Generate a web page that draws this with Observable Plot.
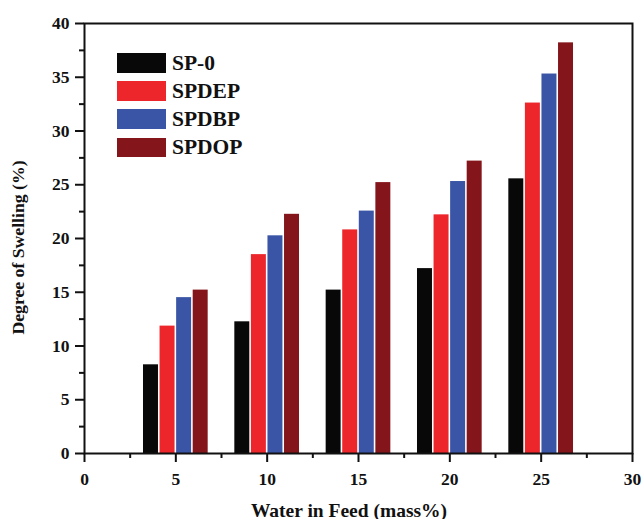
<!DOCTYPE html>
<html>
<head>
<meta charset="utf-8">
<script src="https://cdn.jsdelivr.net/npm/d3@7"></script>
<script src="https://cdn.jsdelivr.net/npm/@observablehq/plot@0.6"></script>
<style>
  html, body { margin: 0; padding: 0; background: white; }
  #wrap { position: relative; width: 641px; height: 519px; }
  #legend { position: absolute; left: 117px; top: 49px; font-family: 'Liberation Serif','Times New Roman',serif; font-weight: bold; font-size: 21.5px; color: #111; }
  .row { display: flex; align-items: center; height: 28.1px; }
  .sw { width: 49px; height: 19.5px; margin-right: 6px; }
  #wrap svg g[aria-label$="tick label"] { font-size: 17.5px !important; font-weight: bold !important; }
</style>
</head>
<body>
<div id="wrap"><div id="legend"></div></div>
<script>
const water = [5, 10, 15, 20, 25];
const series = ["SP-0", "SPDEP", "SPDBP", "SPDOP"];
const sp0   = [8.25, 12.25, 15.2, 17.2, 25.55];
const spdep = [11.85, 18.5, 20.8, 22.2, 32.6];
const spdbp = [14.5, 20.25, 22.55, 25.3, 35.3];
const spdop = [15.2, 22.25, 25.2, 27.2, 38.2];
const colors = ["#080808", "#ec262b", "#3a55a6", "#84161b"];
const xTicks = [0, 5, 10, 15, 20, 25, 30];
const xMinor = [2.5, 7.5, 12.5, 17.5, 22.5, 27.5];
const yTicks = [0, 5, 10, 15, 20, 25, 30, 35, 40];
const yMinor = [2.5, 7.5, 12.5, 17.5, 22.5, 27.5, 32.5, 37.5];

const values = [sp0, spdep, spdbp, spdop];
const step = 0.907, barW = 0.82;
const rows = [];
series.forEach((s, i) => {
  water.forEach((w, j) => {
    const c = w + (i - 1.5) * step;
    rows.push({series: s, water: w, x1: c - barW / 2, x2: c + barW / 2, value: values[i][j]});
  });
});

const font = "'Liberation Serif','Times New Roman',serif";
const chart = Plot.plot({
  width: 641, height: 519,
  marginLeft: 84, marginRight: 9, marginTop: 23, marginBottom: 66,
  x: {domain: [0, 30]},
  y: {domain: [0, 40]},
  color: {domain: series, range: colors},
  style: {fontFamily: font, fontWeight: "bold", fontSize: "17px", color: "#111", background: "white", overflow: "visible"},
  marks: [
    Plot.rect(rows, {x1: "x1", x2: "x2", y1: 0, y2: "value", fill: "series"}),
    Plot.frame({strokeWidth: 2}),
    Plot.axisX({ticks: xTicks, tickSize: 9, tickPadding: 10, strokeWidth: 2, label: null}),
    Plot.axisX({ticks: xMinor, tickSize: 5, tickFormat: () => "", strokeWidth: 2, label: null}),
    Plot.axisY({ticks: yTicks, tickSize: 9, tickPadding: 6, strokeWidth: 2, label: null}),
    Plot.axisY({ticks: yMinor, tickSize: 5, tickFormat: () => "", strokeWidth: 2, label: null}),
    Plot.text(["Degree of Swelling (%)"], {frameAnchor: "left", textAnchor: "middle", rotate: -90, dx: -66, dy: 9, fontSize: 17.7, fontWeight: "bold"}),
    Plot.text(["Water in Feed (mass%)"], {frameAnchor: "bottom", dx: -9.5, dy: 63, fontSize: 19.5, fontWeight: "bold"})
  ]
});
document.getElementById("wrap").prepend(chart);

const legend = document.getElementById("legend");
series.forEach((s, i) => {
  const row = document.createElement("div");
  row.className = "row";
  const sw = document.createElement("div");
  sw.className = "sw";
  sw.style.background = colors[i];
  const t = document.createElement("span");
  t.textContent = s;
  row.appendChild(sw);
  row.appendChild(t);
  legend.appendChild(row);
});
</script>
</body>
</html>
